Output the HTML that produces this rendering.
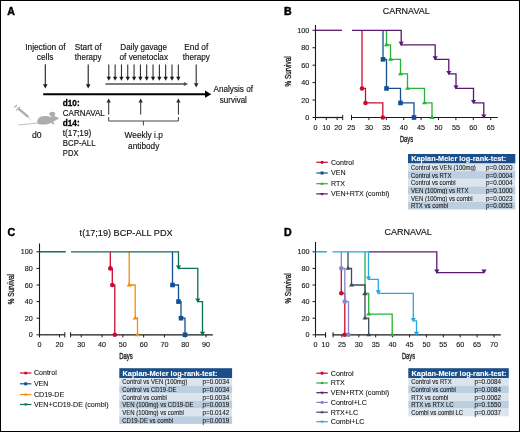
<!DOCTYPE html><html><head><meta charset="utf-8"><style>html,body{margin:0;padding:0;background:#fff;}svg{display:block;will-change:transform;}</style></head><body>
<svg width="520" height="432" viewBox="0 0 520 432" font-family='"Liberation Sans", sans-serif'>
<rect x="0" y="0" width="520" height="432" fill="#fff"/>
<text x="7.3" y="15.0" font-size="10.6" text-anchor="start" font-weight="bold" fill="#000"  stroke="#000" stroke-width="0.45">A</text>
<text x="284.0" y="15.1" font-size="10.6" text-anchor="start" font-weight="bold" fill="#000"  stroke="#000" stroke-width="0.45">B</text>
<text x="7.4" y="235.8" font-size="10.6" text-anchor="start" font-weight="bold" fill="#000"  stroke="#000" stroke-width="0.45">C</text>
<text x="284.0" y="236.3" font-size="10.6" text-anchor="start" font-weight="bold" fill="#000"  stroke="#000" stroke-width="0.45">D</text>
<text x="25.2" y="49.5" font-size="8.2" text-anchor="start" fill="#111" textLength="40.3" lengthAdjust="spacingAndGlyphs"  stroke="#111" stroke-width="0.14">Injection of</text>
<text x="36.8" y="59.8" font-size="8.2" text-anchor="start" fill="#111" textLength="16.7" lengthAdjust="spacingAndGlyphs"  stroke="#111" stroke-width="0.14">cells</text>
<text x="74.8" y="49.5" font-size="8.2" text-anchor="start" fill="#111" textLength="26.7" lengthAdjust="spacingAndGlyphs"  stroke="#111" stroke-width="0.14">Start of</text>
<text x="74.8" y="59.8" font-size="8.2" text-anchor="start" fill="#111" textLength="26.7" lengthAdjust="spacingAndGlyphs"  stroke="#111" stroke-width="0.14">therapy</text>
<text x="120.3" y="49.5" font-size="8.2" text-anchor="start" fill="#111" textLength="46.8" lengthAdjust="spacingAndGlyphs"  stroke="#111" stroke-width="0.14">Daily gavage</text>
<text x="119.5" y="59.8" font-size="8.2" text-anchor="start" fill="#111" textLength="48.5" lengthAdjust="spacingAndGlyphs"  stroke="#111" stroke-width="0.14">of venetoclax</text>
<text x="184.3" y="49.5" font-size="8.2" text-anchor="start" fill="#111" textLength="23.9" lengthAdjust="spacingAndGlyphs"  stroke="#111" stroke-width="0.14">End of</text>
<text x="182.8" y="59.8" font-size="8.2" text-anchor="start" fill="#111" textLength="27" lengthAdjust="spacingAndGlyphs"  stroke="#111" stroke-width="0.14">therapy</text>
<text x="213.5" y="92.0" font-size="8.2" text-anchor="start" fill="#111" textLength="39.5" lengthAdjust="spacingAndGlyphs"  stroke="#111" stroke-width="0.14">Analysis of</text>
<text x="219.8" y="102.8" font-size="8.2" text-anchor="start" fill="#111" textLength="27.1" lengthAdjust="spacingAndGlyphs"  stroke="#111" stroke-width="0.14">survival</text>
<text x="62.8" y="106" font-size="8.2" text-anchor="start" font-weight="bold" fill="#000"  stroke="#000" stroke-width="0.3">d10:</text>
<text x="62.8" y="116" font-size="8.2" text-anchor="start" fill="#111" textLength="42" lengthAdjust="spacingAndGlyphs"  stroke="#111" stroke-width="0.14">CARNAVAL</text>
<text x="62.8" y="125.6" font-size="8.2" text-anchor="start" font-weight="bold" fill="#000"  stroke="#000" stroke-width="0.3">d14:</text>
<text x="62.8" y="135.6" font-size="8.2" text-anchor="start" fill="#111" textLength="28.5" lengthAdjust="spacingAndGlyphs"  stroke="#111" stroke-width="0.14">t(17;19)</text>
<text x="62.8" y="145.6" font-size="8.2" text-anchor="start" fill="#111" textLength="32.8" lengthAdjust="spacingAndGlyphs"  stroke="#111" stroke-width="0.14">BCP-ALL</text>
<text x="62.8" y="156.1" font-size="8.2" text-anchor="start" fill="#111" textLength="15.7" lengthAdjust="spacingAndGlyphs"  stroke="#111" stroke-width="0.14">PDX</text>
<text x="31.9" y="137.9" font-size="8.2" text-anchor="start" fill="#111" textLength="9.6" lengthAdjust="spacingAndGlyphs"  stroke="#111" stroke-width="0.14">d0</text>
<text x="124.5" y="137.6" font-size="8.2" text-anchor="start" fill="#111" textLength="38.4" lengthAdjust="spacingAndGlyphs"  stroke="#111" stroke-width="0.14">Weekly i.p</text>
<text x="128.1" y="148.6" font-size="8.2" text-anchor="start" fill="#111" textLength="31.2" lengthAdjust="spacingAndGlyphs"  stroke="#111" stroke-width="0.14">antibody</text>
<line x1="45.3" y1="64.3" x2="45.3" y2="84.8" stroke="#1a1a1a" stroke-width="1.1"/>
<path d="M43.0,84.3 L47.599999999999994,84.3 L45.3,88.6 Z" fill="#1a1a1a"/>
<line x1="88.2" y1="64.5" x2="88.2" y2="84.8" stroke="#1a1a1a" stroke-width="1.1"/>
<path d="M85.9,84.3 L90.5,84.3 L88.2,88.6 Z" fill="#1a1a1a"/>
<line x1="196.2" y1="64.5" x2="196.2" y2="83.8" stroke="#2a2a2a" stroke-width="1.1"/>
<path d="M193.89999999999998,83.3 L198.5,83.3 L196.2,87.6 Z" fill="#2a2a2a"/>
<line x1="108.8" y1="64.5" x2="108.8" y2="77.3" stroke="#1a1a1a" stroke-width="1.0"/>
<path d="M106.6,76.8 L111.0,76.8 L108.8,80.8 Z" fill="#1a1a1a"/>
<line x1="115.12" y1="64.5" x2="115.12" y2="77.3" stroke="#1a1a1a" stroke-width="1.0"/>
<path d="M112.92,76.8 L117.32000000000001,76.8 L115.12,80.8 Z" fill="#1a1a1a"/>
<line x1="121.44" y1="64.5" x2="121.44" y2="77.3" stroke="#1a1a1a" stroke-width="1.0"/>
<path d="M119.24,76.8 L123.64,76.8 L121.44,80.8 Z" fill="#1a1a1a"/>
<line x1="127.76" y1="64.5" x2="127.76" y2="77.3" stroke="#1a1a1a" stroke-width="1.0"/>
<path d="M125.56,76.8 L129.96,76.8 L127.76,80.8 Z" fill="#1a1a1a"/>
<line x1="134.08" y1="64.5" x2="134.08" y2="77.3" stroke="#1a1a1a" stroke-width="1.0"/>
<path d="M131.88000000000002,76.8 L136.28,76.8 L134.08,80.8 Z" fill="#1a1a1a"/>
<line x1="140.4" y1="64.5" x2="140.4" y2="77.3" stroke="#1a1a1a" stroke-width="1.0"/>
<path d="M138.20000000000002,76.8 L142.6,76.8 L140.4,80.8 Z" fill="#1a1a1a"/>
<line x1="146.72" y1="64.5" x2="146.72" y2="77.3" stroke="#1a1a1a" stroke-width="1.0"/>
<path d="M144.52,76.8 L148.92,76.8 L146.72,80.8 Z" fill="#1a1a1a"/>
<line x1="153.04" y1="64.5" x2="153.04" y2="77.3" stroke="#1a1a1a" stroke-width="1.0"/>
<path d="M150.84,76.8 L155.23999999999998,76.8 L153.04,80.8 Z" fill="#1a1a1a"/>
<line x1="159.36" y1="64.5" x2="159.36" y2="77.3" stroke="#1a1a1a" stroke-width="1.0"/>
<path d="M157.16000000000003,76.8 L161.56,76.8 L159.36,80.8 Z" fill="#1a1a1a"/>
<line x1="165.68" y1="64.5" x2="165.68" y2="77.3" stroke="#1a1a1a" stroke-width="1.0"/>
<path d="M163.48000000000002,76.8 L167.88,76.8 L165.68,80.8 Z" fill="#1a1a1a"/>
<line x1="172.0" y1="64.5" x2="172.0" y2="77.3" stroke="#1a1a1a" stroke-width="1.0"/>
<path d="M169.8,76.8 L174.2,76.8 L172.0,80.8 Z" fill="#1a1a1a"/>
<line x1="178.32" y1="64.5" x2="178.32" y2="77.3" stroke="#1a1a1a" stroke-width="1.0"/>
<path d="M176.12,76.8 L180.51999999999998,76.8 L178.32,80.8 Z" fill="#1a1a1a"/>
<line x1="105.5" y1="84.0" x2="184.39999999999998" y2="84.0" stroke="#505050" stroke-width="1.3"/>
<path d="M183.89999999999998,82.0 L183.89999999999998,86.0 L188.2,84.0 Z" fill="#505050"/>
<line x1="43.2" y1="94.2" x2="205.5" y2="94.2" stroke="#000" stroke-width="2.0"/>
<path d="M205.0,90.60000000000001 L205.0,97.8 L211.3,94.2 Z" fill="#000"/>
<line x1="108.7" y1="114.6" x2="108.7" y2="102.1" stroke="#2a2a2a" stroke-width="1.0"/>
<path d="M106.5,102.6 L110.9,102.6 L108.7,98.6 Z" fill="#2a2a2a"/>
<line x1="140.7" y1="114.6" x2="140.7" y2="102.1" stroke="#2a2a2a" stroke-width="1.0"/>
<path d="M138.5,102.6 L142.89999999999998,102.6 L140.7,98.6 Z" fill="#2a2a2a"/>
<line x1="178.4" y1="114.6" x2="178.4" y2="102.1" stroke="#2a2a2a" stroke-width="1.0"/>
<path d="M176.20000000000002,102.6 L180.6,102.6 L178.4,98.6 Z" fill="#2a2a2a"/>
<path d="M108.7,117 V121 H178.4 V117 M143.4,121 V125.4" fill="none" stroke="#444" stroke-width="1"/>
<g fill="#adadad" stroke="none"><path d="M37.3,122.6 C36.9,118.6 40,116.2 44.2,116.1 C47,116.1 49,116.4 50.4,116.9 L52.3,115.7 C55,116 57.4,117 59.1,118.3 L57.6,119.3 C56,120.1 54.6,120.8 53.2,121.4 L54.4,123.9 L53.2,124.5 L50.8,122.7 C49.4,123.6 47.6,124.3 45.2,124.5 L39.6,124.6 C38.4,124.4 37.6,123.8 37.3,122.6 Z"/><ellipse cx="52.3" cy="113.9" rx="2.9" ry="2.2"/></g>
<path d="M37.8,122.9 Q31,124 18.6,124.9" fill="none" stroke="#b5b5b5" stroke-width="0.9"/>
<g stroke-linecap="round"><path d="M27.2,115.8 L31.1,120.1" stroke="#b8b8b8" stroke-width="0.6"/><path d="M19.2,109.4 L27.6,116.4" stroke="#a0a0a0" stroke-width="2.2"/><path d="M19.6,110.1 L27.2,116.3" stroke="#c8c8c8" stroke-width="0.8"/><path d="M16.6,110.2 L19.8,107.2" stroke="#a8a8a8" stroke-width="1.1"/><path d="M14.4,107.4 L16.6,105.2" stroke="#b0b0b0" stroke-width="1.2"/><path d="M16,106.6 L18.2,108.6" stroke="#b8b8b8" stroke-width="0.7"/></g>
<text x="406.2" y="14.4" font-size="9.0" text-anchor="middle" fill="#151515" textLength="47.0" lengthAdjust="spacingAndGlyphs"  stroke="#151515" stroke-width="0.15">CARNAVAL</text>
<line x1="315.5" y1="25" x2="315.5" y2="118.0" stroke="#1a1a1a" stroke-width="1.1"/>
<line x1="312.5" y1="117.5" x2="315.5" y2="117.5" stroke="#1a1a1a" stroke-width="1"/>
<text x="309.3" y="120.05" font-size="7.2" text-anchor="end" fill="#141414"  stroke="#141414" stroke-width="0.12">0</text>
<line x1="312.5" y1="100.06" x2="315.5" y2="100.06" stroke="#1a1a1a" stroke-width="1"/>
<text x="309.3" y="102.61" font-size="7.2" text-anchor="end" fill="#141414"  stroke="#141414" stroke-width="0.12">20</text>
<line x1="312.5" y1="82.62" x2="315.5" y2="82.62" stroke="#1a1a1a" stroke-width="1"/>
<text x="309.3" y="85.17" font-size="7.2" text-anchor="end" fill="#141414"  stroke="#141414" stroke-width="0.12">40</text>
<line x1="312.5" y1="65.18" x2="315.5" y2="65.18" stroke="#1a1a1a" stroke-width="1"/>
<text x="309.3" y="67.73" font-size="7.2" text-anchor="end" fill="#141414"  stroke="#141414" stroke-width="0.12">60</text>
<line x1="312.5" y1="47.739999999999995" x2="315.5" y2="47.739999999999995" stroke="#1a1a1a" stroke-width="1"/>
<text x="309.3" y="50.28999999999999" font-size="7.2" text-anchor="end" fill="#141414"  stroke="#141414" stroke-width="0.12">80</text>
<line x1="312.5" y1="30.299999999999997" x2="315.5" y2="30.299999999999997" stroke="#1a1a1a" stroke-width="1"/>
<text x="309.3" y="32.849999999999994" font-size="7.2" text-anchor="end" fill="#141414"  stroke="#141414" stroke-width="0.12">100</text>
<text x="0" y="0" font-size="8.6" text-anchor="middle" fill="#1e1e1e" stroke="#1e1e1e" stroke-width="0.35" textLength="30.2" lengthAdjust="spacingAndGlyphs" transform="translate(290.9,71.4) rotate(-90)">% Survival</text>
<line x1="315.0" y1="117.5" x2="342.7" y2="117.5" stroke="#1a1a1a" stroke-width="1.2"/>
<line x1="315.5" y1="117.5" x2="315.5" y2="120.1" stroke="#1a1a1a" stroke-width="1"/>
<text x="315.5" y="130.0" font-size="7.2" text-anchor="middle" fill="#141414"  stroke="#141414" stroke-width="0.12">0</text>
<line x1="326.3" y1="117.5" x2="326.3" y2="120.1" stroke="#1a1a1a" stroke-width="1"/>
<text x="326.3" y="130.0" font-size="7.2" text-anchor="middle" fill="#141414"  stroke="#141414" stroke-width="0.12">10</text>
<line x1="337.1" y1="117.5" x2="337.1" y2="120.1" stroke="#1a1a1a" stroke-width="1"/>
<text x="338.3" y="130.0" font-size="7.2" text-anchor="middle" fill="#141414"  stroke="#141414" stroke-width="0.12">20</text>
<line x1="342.7" y1="114.9" x2="342.7" y2="120.1" stroke="#1a1a1a" stroke-width="1"/>
<line x1="351.0" y1="117.5" x2="497.8" y2="117.5" stroke="#1a1a1a" stroke-width="1.2"/>
<line x1="368.9" y1="117.5" x2="368.9" y2="120.1" stroke="#1a1a1a" stroke-width="1"/>
<text x="368.9" y="130.0" font-size="7.2" text-anchor="middle" fill="#141414"  stroke="#141414" stroke-width="0.12">30</text>
<line x1="386.3" y1="117.5" x2="386.3" y2="120.1" stroke="#1a1a1a" stroke-width="1"/>
<text x="386.3" y="130.0" font-size="7.2" text-anchor="middle" fill="#141414"  stroke="#141414" stroke-width="0.12">35</text>
<line x1="403.7" y1="117.5" x2="403.7" y2="120.1" stroke="#1a1a1a" stroke-width="1"/>
<text x="403.7" y="130.0" font-size="7.2" text-anchor="middle" fill="#141414"  stroke="#141414" stroke-width="0.12">40</text>
<line x1="421.1" y1="117.5" x2="421.1" y2="120.1" stroke="#1a1a1a" stroke-width="1"/>
<text x="421.1" y="130.0" font-size="7.2" text-anchor="middle" fill="#141414"  stroke="#141414" stroke-width="0.12">45</text>
<line x1="438.5" y1="117.5" x2="438.5" y2="120.1" stroke="#1a1a1a" stroke-width="1"/>
<text x="438.5" y="130.0" font-size="7.2" text-anchor="middle" fill="#141414"  stroke="#141414" stroke-width="0.12">50</text>
<line x1="455.9" y1="117.5" x2="455.9" y2="120.1" stroke="#1a1a1a" stroke-width="1"/>
<text x="455.9" y="130.0" font-size="7.2" text-anchor="middle" fill="#141414"  stroke="#141414" stroke-width="0.12">55</text>
<line x1="473.3" y1="117.5" x2="473.3" y2="120.1" stroke="#1a1a1a" stroke-width="1"/>
<text x="473.3" y="130.0" font-size="7.2" text-anchor="middle" fill="#141414"  stroke="#141414" stroke-width="0.12">60</text>
<line x1="490.7" y1="117.5" x2="490.7" y2="120.1" stroke="#1a1a1a" stroke-width="1"/>
<text x="490.7" y="130.0" font-size="7.2" text-anchor="middle" fill="#141414"  stroke="#141414" stroke-width="0.12">65</text>
<line x1="351.5" y1="114.9" x2="351.5" y2="120.1" stroke="#1a1a1a" stroke-width="1"/>
<text x="351.3" y="129.9" font-size="7.2" text-anchor="middle" fill="#141414"  stroke="#141414" stroke-width="0.12">25</text>
<text x="406.5" y="142.3" font-size="8.5" text-anchor="middle" fill="#1e1e1e" textLength="13.1" lengthAdjust="spacingAndGlyphs" stroke="#1e1e1e" stroke-width="0.35">Days</text>
<path d="M362,30.3 H362 V88.44 H365.5 V102.96 H382.8 V117.5" fill="none" stroke="#cc0a2e" stroke-width="1.3" stroke-linejoin="miter"/>
<circle cx="362" cy="88.44" r="2.3" fill="#cc0a2e"/>
<circle cx="365.5" cy="102.96" r="2.3" fill="#cc0a2e"/>
<circle cx="382.8" cy="117.5" r="2.3" fill="#cc0a2e"/>
<path d="M383,30.3 H383 V59.36 H386.5 V88.44 H400.5 V102.96 H414 V117.5" fill="none" stroke="#13508f" stroke-width="1.3" stroke-linejoin="miter"/>
<rect x="380.7" y="57.06" width="4.6" height="4.6" fill="#13508f"/>
<rect x="384.2" y="86.14" width="4.6" height="4.6" fill="#13508f"/>
<rect x="398.2" y="100.66" width="4.6" height="4.6" fill="#13508f"/>
<rect x="411.7" y="115.2" width="4.6" height="4.6" fill="#13508f"/>
<path d="M386.5,30.3 H386.5 V44.84 H390.5 V59.36 H400.5 V73.9 H407.5 V88.44 H424.5 V102.96 H432 V117.5" fill="none" stroke="#26b236" stroke-width="1.3" stroke-linejoin="miter"/>
<path d="M383.9,46.24 L389.1,46.24 L386.5,42.34 Z" fill="#26b236"/>
<path d="M387.9,60.76 L393.1,60.76 L390.5,56.86 Z" fill="#26b236"/>
<path d="M397.9,75.30000000000001 L403.1,75.30000000000001 L400.5,71.4 Z" fill="#26b236"/>
<path d="M404.9,89.84 L410.1,89.84 L407.5,85.94 Z" fill="#26b236"/>
<path d="M421.9,104.36 L427.1,104.36 L424.5,100.46 Z" fill="#26b236"/>
<path d="M429.4,118.9 L434.6,118.9 L432,115.0 Z" fill="#26b236"/>
<path d="M352,30.3 H401.2 V44.84 H435.2 V59.36 H448.8 V73.9 H456 V88.44 H473.5 V102.96 H483.8 V117.5" fill="none" stroke="#5a1870" stroke-width="1.3" stroke-linejoin="miter"/>
<path d="M398.59999999999997,41.84 L403.8,41.84 L401.2,45.940000000000005 Z" fill="#5a1870"/>
<path d="M432.59999999999997,56.36 L437.8,56.36 L435.2,60.46 Z" fill="#5a1870"/>
<path d="M446.2,70.9 L451.40000000000003,70.9 L448.8,75.0 Z" fill="#5a1870"/>
<path d="M453.4,85.44 L458.6,85.44 L456,89.53999999999999 Z" fill="#5a1870"/>
<path d="M470.9,99.96 L476.1,99.96 L473.5,104.05999999999999 Z" fill="#5a1870"/>
<path d="M481.2,114.5 L486.40000000000003,114.5 L483.8,118.6 Z" fill="#5a1870"/>
<line x1="315.5" y1="30.3" x2="342" y2="30.3" stroke="#5a1870" stroke-width="1.3"/>
<line x1="316.3" y1="162.3" x2="327.8" y2="162.3" stroke="#cc0a2e" stroke-width="1.2"/>
<circle cx="322.05" cy="162.3" r="1.6" fill="#cc0a2e"/>
<text x="331.0" y="164.60000000000002" font-size="7.5" text-anchor="start" fill="#161616" textLength="22.85" lengthAdjust="spacingAndGlyphs"  stroke="#161616" stroke-width="0.1">Control</text>
<line x1="316.3" y1="173.0" x2="327.8" y2="173.0" stroke="#13508f" stroke-width="1.2"/>
<rect x="320.55" y="171.5" width="3" height="3" fill="#13508f"/>
<text x="331.0" y="175.3" font-size="7.5" text-anchor="start" fill="#161616" textLength="14.57" lengthAdjust="spacingAndGlyphs"  stroke="#161616" stroke-width="0.1">VEN</text>
<line x1="316.3" y1="183.7" x2="327.8" y2="183.7" stroke="#26b236" stroke-width="1.2"/>
<path d="M320.25,184.7 L323.85,184.7 L322.05,181.89999999999998 Z" fill="#26b236"/>
<text x="331.0" y="186.0" font-size="7.5" text-anchor="start" fill="#161616" textLength="14.05" lengthAdjust="spacingAndGlyphs"  stroke="#161616" stroke-width="0.1">RTX</text>
<line x1="316.3" y1="193.9" x2="327.8" y2="193.9" stroke="#5a1870" stroke-width="1.2"/>
<path d="M320.25,192.9 L323.85,192.9 L322.05,195.70000000000002 Z" fill="#5a1870"/>
<text x="331.0" y="196.20000000000002" font-size="7.5" text-anchor="start" fill="#161616" textLength="58.35" lengthAdjust="spacingAndGlyphs"  stroke="#161616" stroke-width="0.1">VEN+RTX (combi)</text>
<rect x="408" y="154" width="107.3" height="9.5" fill="#1a4f8b"/>
<text x="411.2" y="161.1" font-size="7.8" text-anchor="start" font-weight="bold" fill="#fff" textLength="95" lengthAdjust="spacingAndGlyphs"  stroke="#fff" stroke-width="0.12">Kaplan-Meier log-rank-test:</text>
<rect x="408" y="163.5" width="107.3" height="7.7" fill="#dce5ee"/>
<text x="411" y="169.9" font-size="6.6" text-anchor="start" fill="#1a1a1a" textLength="64.87" lengthAdjust="spacingAndGlyphs"  stroke="#1a1a1a" stroke-width="0.1">Control vs VEN (100mg)</text>
<text x="486.0" y="169.9" font-size="6.6" text-anchor="start" fill="#1a1a1a" textLength="26.6" lengthAdjust="spacingAndGlyphs"  stroke="#1a1a1a" stroke-width="0.1">p=0.0020</text>
<rect x="408" y="171.15" width="107.3" height="7.7" fill="#bccfe1"/>
<text x="411" y="177.55" font-size="6.6" text-anchor="start" fill="#1a1a1a" textLength="40.47" lengthAdjust="spacingAndGlyphs"  stroke="#1a1a1a" stroke-width="0.1">Control vs RTX</text>
<text x="486.0" y="177.55" font-size="6.6" text-anchor="start" fill="#1a1a1a" textLength="26.6" lengthAdjust="spacingAndGlyphs"  stroke="#1a1a1a" stroke-width="0.1">p=0.0004</text>
<rect x="408" y="178.8" width="107.3" height="7.7" fill="#dce5ee"/>
<text x="411" y="185.20000000000002" font-size="6.6" text-anchor="start" fill="#1a1a1a" textLength="44.58" lengthAdjust="spacingAndGlyphs"  stroke="#1a1a1a" stroke-width="0.1">Control vs combi</text>
<text x="486.0" y="185.20000000000002" font-size="6.6" text-anchor="start" fill="#1a1a1a" textLength="26.6" lengthAdjust="spacingAndGlyphs"  stroke="#1a1a1a" stroke-width="0.1">p=0.0004</text>
<rect x="408" y="186.45" width="107.3" height="7.7" fill="#bccfe1"/>
<text x="411" y="192.85" font-size="6.6" text-anchor="start" fill="#1a1a1a" textLength="57.44" lengthAdjust="spacingAndGlyphs"  stroke="#1a1a1a" stroke-width="0.1">VEN (100mg) vs RTX</text>
<text x="486.0" y="192.85" font-size="6.6" text-anchor="start" fill="#1a1a1a" textLength="26.6" lengthAdjust="spacingAndGlyphs"  stroke="#1a1a1a" stroke-width="0.1">p=0.1000</text>
<rect x="408" y="194.1" width="107.3" height="7.7" fill="#dce5ee"/>
<text x="411" y="200.5" font-size="6.6" text-anchor="start" fill="#1a1a1a" textLength="61.54" lengthAdjust="spacingAndGlyphs"  stroke="#1a1a1a" stroke-width="0.1">VEN (100mg) vs combi</text>
<text x="486.0" y="200.5" font-size="6.6" text-anchor="start" fill="#1a1a1a" textLength="26.6" lengthAdjust="spacingAndGlyphs"  stroke="#1a1a1a" stroke-width="0.1">p=0.0023</text>
<rect x="408" y="201.75" width="107.3" height="7.7" fill="#bccfe1"/>
<text x="411" y="208.15" font-size="6.6" text-anchor="start" fill="#1a1a1a" textLength="37.15" lengthAdjust="spacingAndGlyphs"  stroke="#1a1a1a" stroke-width="0.1">RTX vs combi</text>
<text x="486.0" y="208.15" font-size="6.6" text-anchor="start" fill="#1a1a1a" textLength="26.6" lengthAdjust="spacingAndGlyphs"  stroke="#1a1a1a" stroke-width="0.1">p=0.0053</text>
<text x="126.1" y="235.6" font-size="9.0" text-anchor="middle" fill="#151515" textLength="93" lengthAdjust="spacingAndGlyphs"  stroke="#151515" stroke-width="0.15">t(17;19) BCP-ALL PDX</text>
<line x1="39.5" y1="243.5" x2="39.5" y2="335.3" stroke="#1a1a1a" stroke-width="1.1"/>
<line x1="36.5" y1="334.8" x2="39.5" y2="334.8" stroke="#1a1a1a" stroke-width="1"/>
<text x="32.7" y="337.35" font-size="7.2" text-anchor="end" fill="#141414"  stroke="#141414" stroke-width="0.12">0</text>
<line x1="36.5" y1="318.2" x2="39.5" y2="318.2" stroke="#1a1a1a" stroke-width="1"/>
<text x="32.7" y="320.75" font-size="7.2" text-anchor="end" fill="#141414"  stroke="#141414" stroke-width="0.12">20</text>
<line x1="36.5" y1="301.6" x2="39.5" y2="301.6" stroke="#1a1a1a" stroke-width="1"/>
<text x="32.7" y="304.15000000000003" font-size="7.2" text-anchor="end" fill="#141414"  stroke="#141414" stroke-width="0.12">40</text>
<line x1="36.5" y1="285.0" x2="39.5" y2="285.0" stroke="#1a1a1a" stroke-width="1"/>
<text x="32.7" y="287.55" font-size="7.2" text-anchor="end" fill="#141414"  stroke="#141414" stroke-width="0.12">60</text>
<line x1="36.5" y1="268.4" x2="39.5" y2="268.4" stroke="#1a1a1a" stroke-width="1"/>
<text x="32.7" y="270.95" font-size="7.2" text-anchor="end" fill="#141414"  stroke="#141414" stroke-width="0.12">80</text>
<line x1="36.5" y1="251.8" x2="39.5" y2="251.8" stroke="#1a1a1a" stroke-width="1"/>
<text x="32.7" y="254.35000000000002" font-size="7.2" text-anchor="end" fill="#141414"  stroke="#141414" stroke-width="0.12">100</text>
<text x="0" y="0" font-size="8.6" text-anchor="middle" fill="#1e1e1e" stroke="#1e1e1e" stroke-width="0.35" textLength="30.2" lengthAdjust="spacingAndGlyphs" transform="translate(14.200000000000001,289.2) rotate(-90)">% Survival</text>
<line x1="39.0" y1="334.8" x2="64.8" y2="334.8" stroke="#1a1a1a" stroke-width="1.2"/>
<line x1="39.5" y1="334.8" x2="39.5" y2="337.40000000000003" stroke="#1a1a1a" stroke-width="1"/>
<text x="39.5" y="346.6" font-size="7.2" text-anchor="middle" fill="#141414"  stroke="#141414" stroke-width="0.12">0</text>
<line x1="59.5" y1="334.8" x2="59.5" y2="337.40000000000003" stroke="#1a1a1a" stroke-width="1"/>
<text x="59.5" y="346.6" font-size="7.2" text-anchor="middle" fill="#141414"  stroke="#141414" stroke-width="0.12">20</text>
<line x1="64.8" y1="332.2" x2="64.8" y2="337.40000000000003" stroke="#1a1a1a" stroke-width="1"/>
<line x1="70.1" y1="334.8" x2="212.8" y2="334.8" stroke="#1a1a1a" stroke-width="1.2"/>
<line x1="81.25" y1="334.8" x2="81.25" y2="337.40000000000003" stroke="#1a1a1a" stroke-width="1"/>
<text x="81.25" y="346.6" font-size="7.2" text-anchor="middle" fill="#141414"  stroke="#141414" stroke-width="0.12">30</text>
<line x1="102.05" y1="334.8" x2="102.05" y2="337.40000000000003" stroke="#1a1a1a" stroke-width="1"/>
<text x="102.05" y="346.6" font-size="7.2" text-anchor="middle" fill="#141414"  stroke="#141414" stroke-width="0.12">40</text>
<line x1="122.85" y1="334.8" x2="122.85" y2="337.40000000000003" stroke="#1a1a1a" stroke-width="1"/>
<text x="122.85" y="346.6" font-size="7.2" text-anchor="middle" fill="#141414"  stroke="#141414" stroke-width="0.12">50</text>
<line x1="143.65" y1="334.8" x2="143.65" y2="337.40000000000003" stroke="#1a1a1a" stroke-width="1"/>
<text x="143.65" y="346.6" font-size="7.2" text-anchor="middle" fill="#141414"  stroke="#141414" stroke-width="0.12">60</text>
<line x1="164.45" y1="334.8" x2="164.45" y2="337.40000000000003" stroke="#1a1a1a" stroke-width="1"/>
<text x="164.45" y="346.6" font-size="7.2" text-anchor="middle" fill="#141414"  stroke="#141414" stroke-width="0.12">70</text>
<line x1="185.25" y1="334.8" x2="185.25" y2="337.40000000000003" stroke="#1a1a1a" stroke-width="1"/>
<text x="185.25" y="346.6" font-size="7.2" text-anchor="middle" fill="#141414"  stroke="#141414" stroke-width="0.12">80</text>
<line x1="206.05" y1="334.8" x2="206.05" y2="337.40000000000003" stroke="#1a1a1a" stroke-width="1"/>
<text x="206.05" y="346.6" font-size="7.2" text-anchor="middle" fill="#141414"  stroke="#141414" stroke-width="0.12">90</text>
<line x1="70.6" y1="332.2" x2="70.6" y2="337.40000000000003" stroke="#1a1a1a" stroke-width="1"/>
<text x="126" y="359.0" font-size="8.5" text-anchor="middle" fill="#1e1e1e" textLength="13.7" lengthAdjust="spacingAndGlyphs" stroke="#1e1e1e" stroke-width="0.35">Days</text>
<path d="M110.3,251.8 H110.3 V268.4 H112.3 V285.0 H114.8 V334.8" fill="none" stroke="#cc0a2e" stroke-width="1.3" stroke-linejoin="miter"/>
<circle cx="110.3" cy="268.4" r="2.3" fill="#cc0a2e"/>
<circle cx="112.3" cy="285.0" r="2.3" fill="#cc0a2e"/>
<circle cx="114.8" cy="334.8" r="2.3" fill="#cc0a2e"/>
<path d="M129.2,251.8 H129.2 V285.0 H135.2 V318.2 H137.5 V334.8" fill="none" stroke="#f88a0c" stroke-width="1.3" stroke-linejoin="miter"/>
<path d="M126.6,286.4 L131.79999999999998,286.4 L129.2,282.5 Z" fill="#f88a0c"/>
<path d="M132.6,319.59999999999997 L137.79999999999998,319.59999999999997 L135.2,315.7 Z" fill="#f88a0c"/>
<path d="M134.9,336.2 L140.1,336.2 L137.5,332.3 Z" fill="#f88a0c"/>
<path d="M172.5,251.8 H172.5 V285.0 H178.5 V301.6 H181 V318.2 H185 V334.8" fill="none" stroke="#13508f" stroke-width="1.3" stroke-linejoin="miter"/>
<rect x="170.2" y="282.7" width="4.6" height="4.6" fill="#13508f"/>
<rect x="176.2" y="299.3" width="4.6" height="4.6" fill="#13508f"/>
<rect x="178.7" y="315.9" width="4.6" height="4.6" fill="#13508f"/>
<rect x="182.7" y="332.5" width="4.6" height="4.6" fill="#13508f"/>
<path d="M71,251.8 H178.5 V268.4 H197.8 V301.6 H202.5 V334.8" fill="none" stroke="#0f6f52" stroke-width="1.3" stroke-linejoin="miter"/>
<path d="M175.9,265.4 L181.1,265.4 L178.5,269.5 Z" fill="#0f6f52"/>
<path d="M195.20000000000002,298.6 L200.4,298.6 L197.8,302.70000000000005 Z" fill="#0f6f52"/>
<path d="M199.9,331.8 L205.1,331.8 L202.5,335.90000000000003 Z" fill="#0f6f52"/>
<line x1="39.5" y1="251.8" x2="65.8" y2="251.8" stroke="#0f6f52" stroke-width="1.5"/>
<line x1="20.0" y1="373.0" x2="31.4" y2="373.0" stroke="#cc0a2e" stroke-width="1.2"/>
<circle cx="25.7" cy="373.0" r="1.6" fill="#cc0a2e"/>
<text x="33.9" y="375.3" font-size="7.5" text-anchor="start" fill="#161616" textLength="22.85" lengthAdjust="spacingAndGlyphs"  stroke="#161616" stroke-width="0.1">Control</text>
<line x1="20.0" y1="383.8" x2="31.4" y2="383.8" stroke="#13508f" stroke-width="1.2"/>
<rect x="24.2" y="382.3" width="3" height="3" fill="#13508f"/>
<text x="33.9" y="386.1" font-size="7.5" text-anchor="start" fill="#161616" textLength="14.57" lengthAdjust="spacingAndGlyphs"  stroke="#161616" stroke-width="0.1">VEN</text>
<line x1="20.0" y1="394.5" x2="31.4" y2="394.5" stroke="#f88a0c" stroke-width="1.2"/>
<path d="M23.9,395.5 L27.5,395.5 L25.7,392.7 Z" fill="#f88a0c"/>
<text x="33.9" y="396.8" font-size="7.5" text-anchor="start" fill="#161616" textLength="30.33" lengthAdjust="spacingAndGlyphs"  stroke="#161616" stroke-width="0.1">CD19-DE</text>
<line x1="20.0" y1="404.5" x2="31.4" y2="404.5" stroke="#0f6f52" stroke-width="1.2"/>
<path d="M23.9,403.5 L27.5,403.5 L25.7,406.3 Z" fill="#0f6f52"/>
<text x="33.9" y="406.8" font-size="7.5" text-anchor="start" fill="#161616" textLength="74.63" lengthAdjust="spacingAndGlyphs"  stroke="#161616" stroke-width="0.1">VEN+CD19-DE (combi)</text>
<rect x="119.3" y="368.2" width="112.8" height="9.8" fill="#1a4f8b"/>
<text x="122.5" y="375.6" font-size="7.8" text-anchor="start" font-weight="bold" fill="#fff" textLength="95" lengthAdjust="spacingAndGlyphs"  stroke="#fff" stroke-width="0.12">Kaplan-Meier log-rank-test:</text>
<rect x="119.3" y="378.0" width="112.8" height="7.7" fill="#dce5ee"/>
<text x="122.3" y="384.4" font-size="6.6" text-anchor="start" fill="#1a1a1a" textLength="64.87" lengthAdjust="spacingAndGlyphs"  stroke="#1a1a1a" stroke-width="0.1">Control vs VEN (100mg)</text>
<text x="202.6" y="384.4" font-size="6.6" text-anchor="start" fill="#1a1a1a" textLength="26.6" lengthAdjust="spacingAndGlyphs"  stroke="#1a1a1a" stroke-width="0.1">p=0.0034</text>
<rect x="119.3" y="385.65" width="112.8" height="7.7" fill="#bccfe1"/>
<text x="122.3" y="392.04999999999995" font-size="6.6" text-anchor="start" fill="#1a1a1a" textLength="54.22" lengthAdjust="spacingAndGlyphs"  stroke="#1a1a1a" stroke-width="0.1">Control vs CD19-DE</text>
<text x="202.6" y="392.04999999999995" font-size="6.6" text-anchor="start" fill="#1a1a1a" textLength="26.6" lengthAdjust="spacingAndGlyphs"  stroke="#1a1a1a" stroke-width="0.1">p=0.0034</text>
<rect x="119.3" y="393.3" width="112.8" height="7.7" fill="#dce5ee"/>
<text x="122.3" y="399.7" font-size="6.6" text-anchor="start" fill="#1a1a1a" textLength="44.58" lengthAdjust="spacingAndGlyphs"  stroke="#1a1a1a" stroke-width="0.1">Control vs combi</text>
<text x="202.6" y="399.7" font-size="6.6" text-anchor="start" fill="#1a1a1a" textLength="26.6" lengthAdjust="spacingAndGlyphs"  stroke="#1a1a1a" stroke-width="0.1">p=0.0034</text>
<rect x="119.3" y="400.95" width="112.8" height="7.7" fill="#bccfe1"/>
<text x="122.3" y="407.34999999999997" font-size="6.6" text-anchor="start" fill="#1a1a1a" textLength="71.19" lengthAdjust="spacingAndGlyphs"  stroke="#1a1a1a" stroke-width="0.1">VEN (100mg) vs CD19-DE</text>
<text x="202.6" y="407.34999999999997" font-size="6.6" text-anchor="start" fill="#1a1a1a" textLength="26.6" lengthAdjust="spacingAndGlyphs"  stroke="#1a1a1a" stroke-width="0.1">p=0.0019</text>
<rect x="119.3" y="408.6" width="112.8" height="7.7" fill="#dce5ee"/>
<text x="122.3" y="415.0" font-size="6.6" text-anchor="start" fill="#1a1a1a" textLength="61.54" lengthAdjust="spacingAndGlyphs"  stroke="#1a1a1a" stroke-width="0.1">VEN (100mg) vs combi</text>
<text x="202.6" y="415.0" font-size="6.6" text-anchor="start" fill="#1a1a1a" textLength="26.6" lengthAdjust="spacingAndGlyphs"  stroke="#1a1a1a" stroke-width="0.1">p=0.0142</text>
<rect x="119.3" y="416.25" width="112.8" height="7.7" fill="#bccfe1"/>
<text x="122.3" y="422.65" font-size="6.6" text-anchor="start" fill="#1a1a1a" textLength="50.89" lengthAdjust="spacingAndGlyphs"  stroke="#1a1a1a" stroke-width="0.1">CD19-DE vs combi</text>
<text x="202.6" y="422.65" font-size="6.6" text-anchor="start" fill="#1a1a1a" textLength="26.6" lengthAdjust="spacingAndGlyphs"  stroke="#1a1a1a" stroke-width="0.1">p=0.0019</text>
<text x="408.2" y="235.4" font-size="9.0" text-anchor="middle" fill="#151515" textLength="47.4" lengthAdjust="spacingAndGlyphs"  stroke="#151515" stroke-width="0.15">CARNAVAL</text>
<line x1="315.5" y1="242" x2="315.5" y2="335.3" stroke="#1a1a1a" stroke-width="1.1"/>
<line x1="312.5" y1="334.8" x2="315.5" y2="334.8" stroke="#1a1a1a" stroke-width="1"/>
<text x="309.4" y="337.35" font-size="7.2" text-anchor="end" fill="#141414"  stroke="#141414" stroke-width="0.12">0</text>
<line x1="312.5" y1="318.2" x2="315.5" y2="318.2" stroke="#1a1a1a" stroke-width="1"/>
<text x="309.4" y="320.75" font-size="7.2" text-anchor="end" fill="#141414"  stroke="#141414" stroke-width="0.12">20</text>
<line x1="312.5" y1="301.6" x2="315.5" y2="301.6" stroke="#1a1a1a" stroke-width="1"/>
<text x="309.4" y="304.15000000000003" font-size="7.2" text-anchor="end" fill="#141414"  stroke="#141414" stroke-width="0.12">40</text>
<line x1="312.5" y1="285.0" x2="315.5" y2="285.0" stroke="#1a1a1a" stroke-width="1"/>
<text x="309.4" y="287.55" font-size="7.2" text-anchor="end" fill="#141414"  stroke="#141414" stroke-width="0.12">60</text>
<line x1="312.5" y1="268.4" x2="315.5" y2="268.4" stroke="#1a1a1a" stroke-width="1"/>
<text x="309.4" y="270.95" font-size="7.2" text-anchor="end" fill="#141414"  stroke="#141414" stroke-width="0.12">80</text>
<line x1="312.5" y1="251.8" x2="315.5" y2="251.8" stroke="#1a1a1a" stroke-width="1"/>
<text x="309.4" y="254.35000000000002" font-size="7.2" text-anchor="end" fill="#141414"  stroke="#141414" stroke-width="0.12">100</text>
<text x="0" y="0" font-size="8.6" text-anchor="middle" fill="#1e1e1e" stroke="#1e1e1e" stroke-width="0.35" textLength="30.2" lengthAdjust="spacingAndGlyphs" transform="translate(290.9,288.5) rotate(-90)">% Survival</text>
<line x1="315.0" y1="334.8" x2="325.6" y2="334.8" stroke="#1a1a1a" stroke-width="1.2"/>
<line x1="315.5" y1="334.8" x2="315.5" y2="337.40000000000003" stroke="#1a1a1a" stroke-width="1"/>
<text x="315.5" y="346.6" font-size="7.2" text-anchor="middle" fill="#141414"  stroke="#141414" stroke-width="0.12">0</text>
<line x1="325.6" y1="334.8" x2="325.6" y2="337.40000000000003" stroke="#1a1a1a" stroke-width="1"/>
<text x="325.6" y="346.6" font-size="7.2" text-anchor="middle" fill="#141414"  stroke="#141414" stroke-width="0.12">10</text>
<line x1="325.6" y1="332.2" x2="325.6" y2="337.40000000000003" stroke="#1a1a1a" stroke-width="1"/>
<line x1="332.6" y1="334.8" x2="500.8" y2="334.8" stroke="#1a1a1a" stroke-width="1.2"/>
<line x1="341.9" y1="334.8" x2="341.9" y2="337.40000000000003" stroke="#1a1a1a" stroke-width="1"/>
<text x="341.9" y="346.6" font-size="7.2" text-anchor="middle" fill="#141414"  stroke="#141414" stroke-width="0.12">25</text>
<line x1="358.8" y1="334.8" x2="358.8" y2="337.40000000000003" stroke="#1a1a1a" stroke-width="1"/>
<text x="358.8" y="346.6" font-size="7.2" text-anchor="middle" fill="#141414"  stroke="#141414" stroke-width="0.12">30</text>
<line x1="375.7" y1="334.8" x2="375.7" y2="337.40000000000003" stroke="#1a1a1a" stroke-width="1"/>
<text x="375.7" y="346.6" font-size="7.2" text-anchor="middle" fill="#141414"  stroke="#141414" stroke-width="0.12">35</text>
<line x1="392.6" y1="334.8" x2="392.6" y2="337.40000000000003" stroke="#1a1a1a" stroke-width="1"/>
<text x="392.6" y="346.6" font-size="7.2" text-anchor="middle" fill="#141414"  stroke="#141414" stroke-width="0.12">40</text>
<line x1="409.5" y1="334.8" x2="409.5" y2="337.40000000000003" stroke="#1a1a1a" stroke-width="1"/>
<text x="409.5" y="346.6" font-size="7.2" text-anchor="middle" fill="#141414"  stroke="#141414" stroke-width="0.12">45</text>
<line x1="426.4" y1="334.8" x2="426.4" y2="337.40000000000003" stroke="#1a1a1a" stroke-width="1"/>
<text x="426.4" y="346.6" font-size="7.2" text-anchor="middle" fill="#141414"  stroke="#141414" stroke-width="0.12">50</text>
<line x1="443.3" y1="334.8" x2="443.3" y2="337.40000000000003" stroke="#1a1a1a" stroke-width="1"/>
<text x="443.3" y="346.6" font-size="7.2" text-anchor="middle" fill="#141414"  stroke="#141414" stroke-width="0.12">55</text>
<line x1="460.2" y1="334.8" x2="460.2" y2="337.40000000000003" stroke="#1a1a1a" stroke-width="1"/>
<text x="460.2" y="346.6" font-size="7.2" text-anchor="middle" fill="#141414"  stroke="#141414" stroke-width="0.12">60</text>
<line x1="477.1" y1="334.8" x2="477.1" y2="337.40000000000003" stroke="#1a1a1a" stroke-width="1"/>
<text x="477.1" y="346.6" font-size="7.2" text-anchor="middle" fill="#141414"  stroke="#141414" stroke-width="0.12">65</text>
<line x1="494.0" y1="334.8" x2="494.0" y2="337.40000000000003" stroke="#1a1a1a" stroke-width="1"/>
<text x="494.0" y="346.6" font-size="7.2" text-anchor="middle" fill="#141414"  stroke="#141414" stroke-width="0.12">70</text>
<line x1="333.1" y1="332.2" x2="333.1" y2="337.40000000000003" stroke="#1a1a1a" stroke-width="1"/>
<text x="408.5" y="359.0" font-size="8.5" text-anchor="middle" fill="#1e1e1e" textLength="13.1" lengthAdjust="spacingAndGlyphs" stroke="#1e1e1e" stroke-width="0.35">Days</text>
<path d="M341.3,268.4 H341.3 V293.3 H344.8 V334.8" fill="none" stroke="#cc0a2e" stroke-width="1.3" stroke-linejoin="miter"/>
<circle cx="341.3" cy="293.3" r="2.3" fill="#cc0a2e"/>
<circle cx="344.8" cy="334.8" r="2.3" fill="#cc0a2e"/>
<path d="M341.3,251.8 H341.3 V268.4 H344.8 V301.6 H348.5 V334.8" fill="none" stroke="#8a84c8" stroke-width="1.3" stroke-linejoin="miter"/>
<circle cx="341.3" cy="268.4" r="2.3" fill="#8a84c8"/>
<circle cx="344.8" cy="301.6" r="2.3" fill="#8a84c8"/>
<circle cx="348.5" cy="334.8" r="2.3" fill="#8a84c8"/>
<path d="M365,251.8 H365 V293.3 H368.7 V314.05 H392.2 V334.8" fill="none" stroke="#26b236" stroke-width="1.3" stroke-linejoin="miter"/>
<path d="M362.4,294.7 L367.6,294.7 L365,290.8 Z" fill="#26b236"/>
<path d="M366.09999999999997,315.45 L371.3,315.45 L368.7,311.55 Z" fill="#26b236"/>
<path d="M389.59999999999997,336.2 L394.8,336.2 L392.2,332.3 Z" fill="#26b236"/>
<path d="M348,251.8 H348 V268.4 H351.5 V285.0 H365 V318.2 H368.7 V334.8" fill="none" stroke="#3c4a5c" stroke-width="1.3" stroke-linejoin="miter"/>
<path d="M345.4,269.79999999999995 L350.6,269.79999999999995 L348,265.9 Z" fill="#3c4a5c"/>
<path d="M348.9,286.4 L354.1,286.4 L351.5,282.5 Z" fill="#3c4a5c"/>
<path d="M362.4,319.59999999999997 L367.6,319.59999999999997 L365,315.7 Z" fill="#3c4a5c"/>
<path d="M366.09999999999997,336.2 L371.3,336.2 L368.7,332.3 Z" fill="#3c4a5c"/>
<path d="M362.4,295.3 L367.6,295.3 L365,291.40000000000003 Z" fill="#3c4a5c"/>
<path d="M368.5,251.8 H436.8 V272.55 H484" fill="none" stroke="#5a1870" stroke-width="1.3" stroke-linejoin="miter"/>
<path d="M434.2,269.55 L439.40000000000003,269.55 L436.8,273.65000000000003 Z" fill="#5a1870"/>
<path d="M481.4,269.55 L486.6,269.55 L484,273.65000000000003 Z" fill="#5a1870"/>
<path d="M332.5,251.8 H368.5 V279.46 H378.3 V293.3 H413.3 V320.96 H416.5 V334.8" fill="none" stroke="#27a8e2" stroke-width="1.3" stroke-linejoin="miter"/>
<path d="M365.9,276.46 L371.1,276.46 L368.5,280.56 Z" fill="#27a8e2"/>
<path d="M375.7,290.3 L380.90000000000003,290.3 L378.3,294.40000000000003 Z" fill="#27a8e2"/>
<path d="M410.7,317.96 L415.90000000000003,317.96 L413.3,322.06 Z" fill="#27a8e2"/>
<path d="M413.9,331.8 L419.1,331.8 L416.5,335.90000000000003 Z" fill="#27a8e2"/>
<line x1="315.5" y1="251.8" x2="326.8" y2="251.8" stroke="#27a8e2" stroke-width="1.5"/>
<line x1="316.3" y1="373.2" x2="327.8" y2="373.2" stroke="#cc0a2e" stroke-width="1.2"/>
<circle cx="322.05" cy="373.2" r="1.6" fill="#cc0a2e"/>
<text x="330.8" y="375.5" font-size="7.5" text-anchor="start" fill="#161616" textLength="22.85" lengthAdjust="spacingAndGlyphs"  stroke="#161616" stroke-width="0.1">Control</text>
<line x1="316.3" y1="383.0" x2="327.8" y2="383.0" stroke="#26b236" stroke-width="1.2"/>
<path d="M320.25,384.0 L323.85,384.0 L322.05,381.2 Z" fill="#26b236"/>
<text x="330.8" y="385.3" font-size="7.5" text-anchor="start" fill="#161616" textLength="14.05" lengthAdjust="spacingAndGlyphs"  stroke="#161616" stroke-width="0.1">RTX</text>
<line x1="316.3" y1="392.7" x2="327.8" y2="392.7" stroke="#5a1870" stroke-width="1.2"/>
<path d="M320.25,391.7 L323.85,391.7 L322.05,394.5 Z" fill="#5a1870"/>
<text x="330.8" y="395.0" font-size="7.5" text-anchor="start" fill="#161616" textLength="58.35" lengthAdjust="spacingAndGlyphs"  stroke="#161616" stroke-width="0.1">VEN+RTX (combi)</text>
<line x1="316.3" y1="402.4" x2="327.8" y2="402.4" stroke="#8a84c8" stroke-width="1.2"/>
<circle cx="322.05" cy="402.4" r="1.6" fill="#8a84c8"/>
<text x="330.8" y="404.7" font-size="7.5" text-anchor="start" fill="#161616" textLength="36.05" lengthAdjust="spacingAndGlyphs"  stroke="#161616" stroke-width="0.1">Control+LC</text>
<line x1="316.3" y1="412.2" x2="327.8" y2="412.2" stroke="#3c4a5c" stroke-width="1.2"/>
<path d="M320.25,413.2 L323.85,413.2 L322.05,410.4 Z" fill="#3c4a5c"/>
<text x="330.8" y="414.5" font-size="7.5" text-anchor="start" fill="#161616" textLength="27.25" lengthAdjust="spacingAndGlyphs"  stroke="#161616" stroke-width="0.1">RTX+LC</text>
<line x1="316.3" y1="421.7" x2="327.8" y2="421.7" stroke="#27a8e2" stroke-width="1.2"/>
<path d="M320.25,420.7 L323.85,420.7 L322.05,423.5 Z" fill="#27a8e2"/>
<text x="330.8" y="424.0" font-size="7.5" text-anchor="start" fill="#161616" textLength="33.68" lengthAdjust="spacingAndGlyphs"  stroke="#161616" stroke-width="0.1">Combi+LC</text>
<rect x="408.3" y="368.2" width="100.5" height="9.8" fill="#1a4f8b"/>
<text x="411.5" y="375.6" font-size="7.8" text-anchor="start" font-weight="bold" fill="#fff" textLength="95" lengthAdjust="spacingAndGlyphs"  stroke="#fff" stroke-width="0.12">Kaplan-Meier log-rank-test:</text>
<rect x="408.3" y="378.0" width="100.5" height="7.7" fill="#dce5ee"/>
<text x="411.3" y="384.4" font-size="6.6" text-anchor="start" fill="#1a1a1a" textLength="40.47" lengthAdjust="spacingAndGlyphs"  stroke="#1a1a1a" stroke-width="0.1">Control vs RTX</text>
<text x="474.4" y="384.4" font-size="6.6" text-anchor="start" fill="#1a1a1a" textLength="26.6" lengthAdjust="spacingAndGlyphs"  stroke="#1a1a1a" stroke-width="0.1">p=0.0084</text>
<rect x="408.3" y="385.65" width="100.5" height="7.7" fill="#bccfe1"/>
<text x="411.3" y="392.04999999999995" font-size="6.6" text-anchor="start" fill="#1a1a1a" textLength="44.58" lengthAdjust="spacingAndGlyphs"  stroke="#1a1a1a" stroke-width="0.1">Control vs combi</text>
<text x="474.4" y="392.04999999999995" font-size="6.6" text-anchor="start" fill="#1a1a1a" textLength="26.6" lengthAdjust="spacingAndGlyphs"  stroke="#1a1a1a" stroke-width="0.1">p=0.0084</text>
<rect x="408.3" y="393.3" width="100.5" height="7.7" fill="#dce5ee"/>
<text x="411.3" y="399.7" font-size="6.6" text-anchor="start" fill="#1a1a1a" textLength="37.15" lengthAdjust="spacingAndGlyphs"  stroke="#1a1a1a" stroke-width="0.1">RTX vs combi</text>
<text x="474.4" y="399.7" font-size="6.6" text-anchor="start" fill="#1a1a1a" textLength="26.6" lengthAdjust="spacingAndGlyphs"  stroke="#1a1a1a" stroke-width="0.1">p=0.0062</text>
<rect x="408.3" y="400.95" width="100.5" height="7.7" fill="#bccfe1"/>
<text x="411.3" y="407.34999999999997" font-size="6.6" text-anchor="start" fill="#1a1a1a" textLength="42.36" lengthAdjust="spacingAndGlyphs"  stroke="#1a1a1a" stroke-width="0.1">RTX vs RTX LC</text>
<text x="474.4" y="407.34999999999997" font-size="6.6" text-anchor="start" fill="#1a1a1a" textLength="26.6" lengthAdjust="spacingAndGlyphs"  stroke="#1a1a1a" stroke-width="0.1">p=0.1550</text>
<rect x="408.3" y="408.6" width="100.5" height="7.7" fill="#dce5ee"/>
<text x="411.3" y="415.0" font-size="6.6" text-anchor="start" fill="#1a1a1a" textLength="51.89" lengthAdjust="spacingAndGlyphs"  stroke="#1a1a1a" stroke-width="0.1">Combi vs combi LC</text>
<text x="474.4" y="415.0" font-size="6.6" text-anchor="start" fill="#1a1a1a" textLength="26.6" lengthAdjust="spacingAndGlyphs"  stroke="#1a1a1a" stroke-width="0.1">p=0.0037</text>
<rect x="0.5" y="0.5" width="519" height="431" fill="none" stroke="#000" stroke-width="1"/>
</svg></body></html>
